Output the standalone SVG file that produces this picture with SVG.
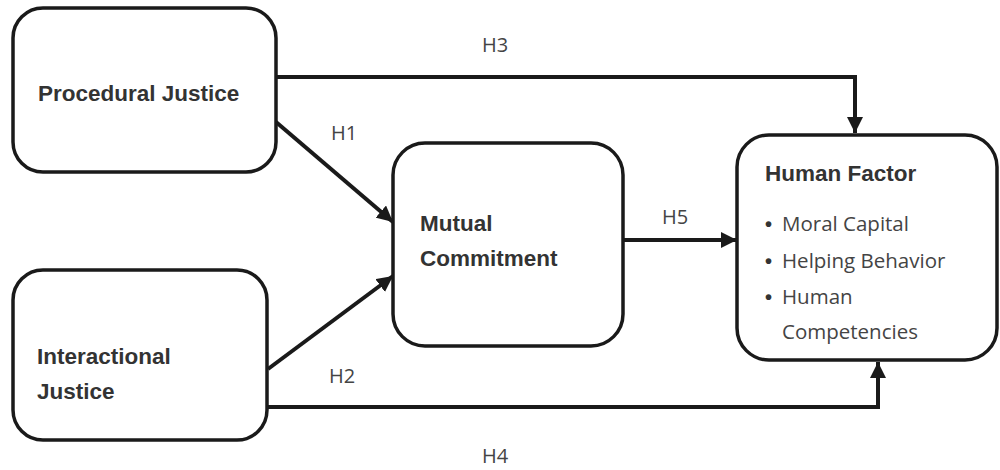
<svg xmlns="http://www.w3.org/2000/svg" width="1000" height="470" viewBox="0 0 1000 470">
<style>
.box{fill:#fff;stroke:#1a1a1a;stroke-width:3.5}
.t{font-family:"Liberation Sans",Arial,sans-serif;font-weight:bold;font-size:22.5px;fill:#333}
.r{font-family:"Open Sans","Liberation Sans",sans-serif;font-size:20.5px;fill:#444}
.b{font-family:"Liberation Sans",sans-serif;font-size:20px;font-weight:bold;fill:#333}
.h{font-family:"Open Sans","Liberation Sans",sans-serif;font-size:20px;fill:#444}
.c{fill:none;stroke:#1a1a1a;stroke-width:4}
</style>
<defs>
<marker id="ah" markerUnits="userSpaceOnUse" markerWidth="18" markerHeight="16" refX="16" refY="8" orient="auto">
<path d="M0,0 L16,8 L0,16 Z" fill="#1a1a1a"/>
</marker>
</defs>
<g id="connectors">
<polyline class="c" points="276,77 855,77 855,133" marker-end="url(#ah)"/>
<line class="c" x1="276" y1="122" x2="393" y2="222" marker-end="url(#ah)"/>
<line class="c" x1="268" y1="369" x2="393" y2="276" marker-end="url(#ah)"/>
<line class="c" x1="623" y1="240" x2="737" y2="240" marker-end="url(#ah)"/>
<polyline class="c" points="268,407 878,407 878,362" marker-end="url(#ah)"/>
<text class="h" x="482" y="52">H3</text>
<text class="h" x="331" y="140">H1</text>
<text class="h" x="662" y="224">H5</text>
<text class="h" x="329" y="383">H2</text>
<text class="h" x="482" y="463">H4</text>
</g>
<g id="procedural">
<rect class="box" x="13" y="8" width="263" height="164" rx="30"/>
<text class="t" x="38" y="101">Procedural Justice</text>
</g>
<g id="interactional">
<rect class="box" x="13" y="270" width="254" height="170" rx="30"/>
<text class="t" x="37" y="364">Interactional</text>
<text class="t" x="37" y="399">Justice</text>
</g>
<g id="mutual">
<rect class="box" x="393" y="143" width="230" height="203" rx="32"/>
<text class="t" x="420" y="231">Mutual</text>
<text class="t" x="420" y="266">Commitment</text>
</g>
<g id="human">
<rect class="box" x="737" y="135" width="260" height="225" rx="32"/>
<text class="t" x="765" y="181">Human Factor</text>
<text class="b" x="765" y="231">•</text><text class="r" x="782" y="231">Moral Capital</text>
<text class="b" x="765" y="268">•</text><text class="r" x="782" y="268">Helping Behavior</text>
<text class="b" x="765" y="304">•</text><text class="r" x="782" y="304">Human</text>
<text class="r" x="782" y="339">Competencies</text>
</g>
</svg>
